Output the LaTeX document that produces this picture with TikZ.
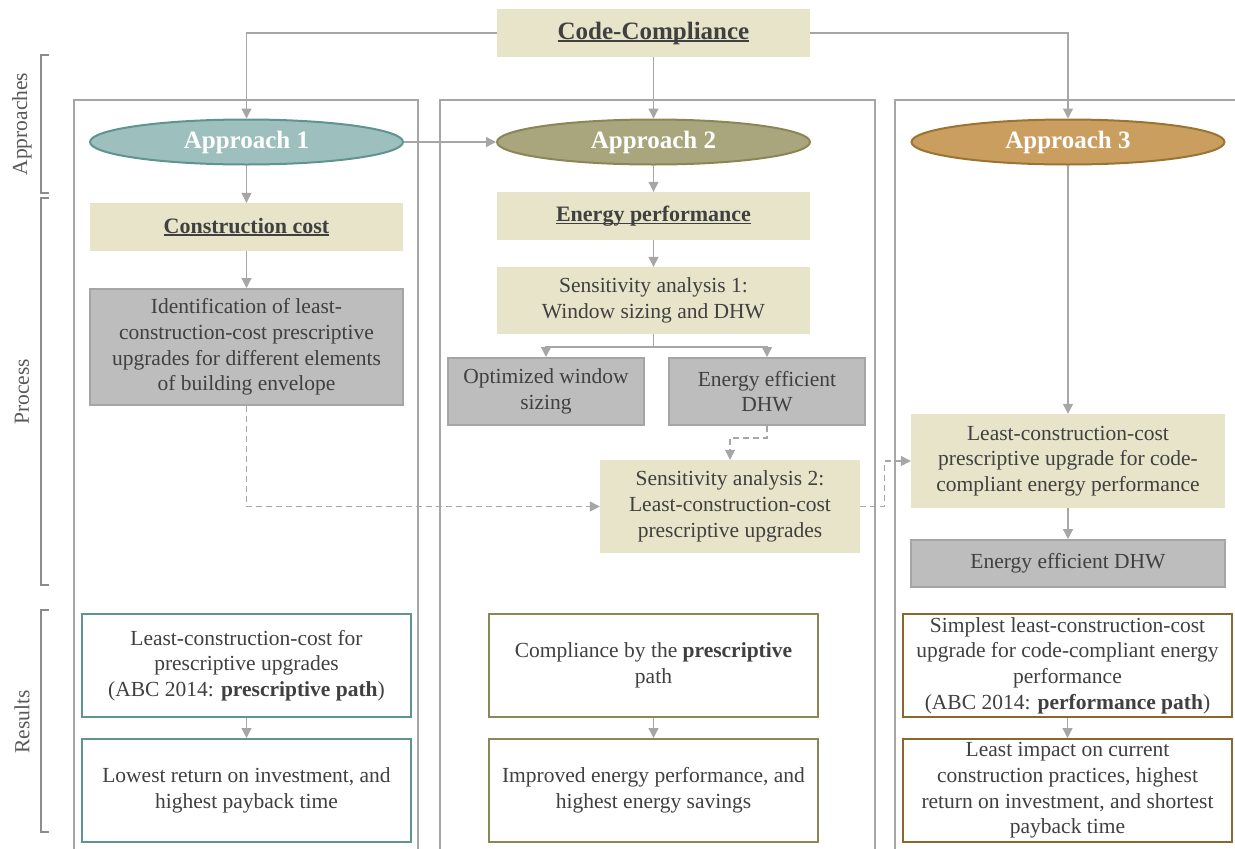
\documentclass[tikz,border=0pt]{standalone}
\usepackage{fontspec}
\setmainfont{Liberation Serif}
\usetikzlibrary{arrows.meta,shapes.geometric}

\definecolor{txt}{HTML}{404040}
\definecolor{sidetxt}{HTML}{595959}
\definecolor{beige}{HTML}{E7E4C9}
\definecolor{boxgray}{HTML}{BDBDBD}
\definecolor{boxedge}{HTML}{A5A5A5}
\definecolor{linegray}{HTML}{A6A6A6}
\definecolor{framegray}{HTML}{A6A6A6}
\definecolor{bracketgray}{HTML}{8C8C8C}
\definecolor{tealfill}{HTML}{9DBFBD}
\definecolor{tealedge}{HTML}{5F9490}
\definecolor{olivefill}{HTML}{A9A67E}
\definecolor{oliveedge}{HTML}{8B8656}
\definecolor{goldfill}{HTML}{C99E5F}
\definecolor{goldedge}{HTML}{9B7332}

% underline drawn at a fixed depth, crossing descenders
\newsavebox\ulinebox
\newcommand\ulined[2][2pt]{\sbox\ulinebox{#2}\rlap{\rule[-3pt]{\wd\ulinebox}{#1}}\usebox\ulinebox}

\tikzset{
  base/.style={inner sep=0pt, align=center, text=txt,
    font=\fontsize{21.5}{25.7}\selectfont},
  beigebox/.style={base, fill=beige, minimum width=313pt},
  graybox/.style={base, fill=boxgray, draw=boxedge, line width=2pt},
  appr/.style={ellipse, inner sep=0pt, minimum width=313pt, minimum height=45pt,
    line width=2pt, text=white, font=\fontsize{25}{30}\selectfont\bfseries},
  res/.style={base, draw, line width=2pt, fill=white,
    minimum width=329pt, minimum height=103pt},
  conn/.style={draw=linegray, line width=1.3pt, -{Triangle[length=10pt,width=10pt]}},
  dconn/.style={conn, dash pattern=on 6pt off 4pt},
  colframe/.style={draw=framegray, line width=2pt},
  bracket/.style={draw=bracketgray, line width=1.2pt},
  side/.style={rotate=90, text=sidetxt, font=\fontsize{21.5}{25.7}\selectfont},
}

\begin{document}
\begin{tikzpicture}[x=1pt, y=-1pt]
\useasboundingbox (0,0) rectangle (1235,849);
\fill[white] (0,0) rectangle (1235,849);

% column frames (open at the bottom)
\draw[colframe] (74,852) -- (74,100) -- (418,100) -- (418,852);
\draw[colframe] (440,852) -- (440,100) -- (875,100) -- (875,852);
\draw[colframe] (895,852) -- (895,100) -- (1237,100);

% side brackets and labels
\draw[bracket] (49,55) -- (41,55) -- (41,193) -- (49,193);
\draw[bracket] (49,198) -- (41,198) -- (41,585) -- (49,585);
\draw[bracket] (49,610) -- (41,610) -- (41,832) -- (49,832);
\node[side] (lblA) at (22,124) {Approaches};
\node[side] (lblP) at (22,392) {Process};
\node[side] (lblR) at (22,722) {Results};

% top
\node[beigebox, minimum height=48pt, font=\fontsize{25}{30}\selectfont\bfseries]
  (cc) at (653.5,33) {\ulined[2.2pt]{Code-Compliance}};

% approaches
\node[appr, fill=tealfill, draw=tealedge] (a1) at (246.5,142) {Approach 1};
\node[appr, fill=olivefill, draw=oliveedge] (a2) at (653.5,142) {Approach 2};
\node[appr, fill=goldfill, draw=goldedge] (a3) at (1068,142) {Approach 3};

% approach 1 process
\node[beigebox, minimum height=48pt, font=\fontsize{22}{26}\selectfont\bfseries]
  (cost) at (246.5,227) {\ulined[1.8pt]{Construction cost}};
\node[graybox, minimum width=313pt, minimum height=116pt] (ident) at (246.5,347)
  {Identification of least-\\construction-cost prescriptive\\upgrades for different elements\\of building envelope};

% approach 2 process
\node[beigebox, minimum height=48pt, font=\fontsize{22}{26}\selectfont\bfseries]
  (energy) at (653.5,216) {\ulined[1.8pt]{Energy performance}};
\node[beigebox, minimum height=67pt] (sa1) at (653.5,300.5)
  {Sensitivity analysis 1:\\Window sizing and DHW};
\node[graybox, minimum width=196pt, minimum height=67pt] (ows) at (546,391.5)
  {Optimized window\\sizing};
\node[graybox, minimum width=196pt, minimum height=67pt] (eed) at (767,391.5)
  {Energy efficient\\DHW};
\node[beigebox, minimum width=260pt, minimum height=93pt] (sa2) at (730,506.5)
  {Sensitivity analysis 2:\\Least-construction-cost\\prescriptive upgrades};

% approach 3 process
\node[beigebox, minimum width=314pt, minimum height=94pt] (lcc) at (1068,461)
  {Least-construction-cost\\prescriptive upgrade for code-\\compliant energy performance};
\node[graybox, minimum width=314pt, minimum height=47pt] (dhw) at (1068,563.5)
  {Energy efficient DHW};

% results
\node[res, draw=tealedge] (r1a) at (246.5,665.5)
  {Least-construction-cost for\\prescriptive upgrades\\(ABC 2014: \textbf{prescriptive path})};
\node[res, draw=tealedge] (r1b) at (246.5,790.5)
  {Lowest return on investment, and\\highest payback time};
\node[res, draw=oliveedge] (r2a) at (653.5,665.5)
  {Compliance by the \textbf{prescriptive}\\path};
\node[res, draw=oliveedge] (r2b) at (653.5,790.5)
  {Improved energy performance, and\\highest energy savings};
\node[res, draw=goldedge!90!black] (r3a) at (1067.5,665.5)
  {Simplest least-construction-cost\\upgrade for code-compliant energy\\performance\\(ABC 2014: \textbf{performance path})};
\node[res, draw=goldedge!90!black] (r3b) at (1067.5,790.5)
  {Least impact on current\\construction practices, highest\\return on investment, and shortest\\payback time};

% connectors
\draw[conn] (cc.west) -| (a1.north);
\draw[conn] (cc.south) -- (a2.north);
\draw[conn] (cc.east) -| (a3.north);
\draw[conn] (a1.east) -- (a2.west);
\draw[conn] (a1.south) -- (cost.north);
\draw[conn] (cost.south) -- (ident.north);
\draw[conn] (a2.south) -- (energy.north);
\draw[conn] (energy.south) -- (sa1.north);
\coordinate (split) at (653.5,347);
\draw[draw=linegray, line width=1.3pt] (sa1.south) -- (split);
\draw[conn] (split) -| (ows.north);
\draw[conn] (split) -| (eed.north);
\draw[dconn] (eed.south) -- ++(0,12) -| (sa2.north);
\draw[dconn] (ident.south) |- (sa2.west);
\draw[dconn] (sa2.east) -- ++(24,0) |- (lcc.west);
\draw[conn] (a3.south) -- (lcc.north);
\draw[conn] (lcc.south) -- (dhw.north);
\draw[conn] (r1a.south) -- (r1b.north);
\draw[conn] (r2a.south) -- (r2b.north);
\draw[conn] (r3a.south) -- (r3b.north);
\end{tikzpicture}
\end{document}
